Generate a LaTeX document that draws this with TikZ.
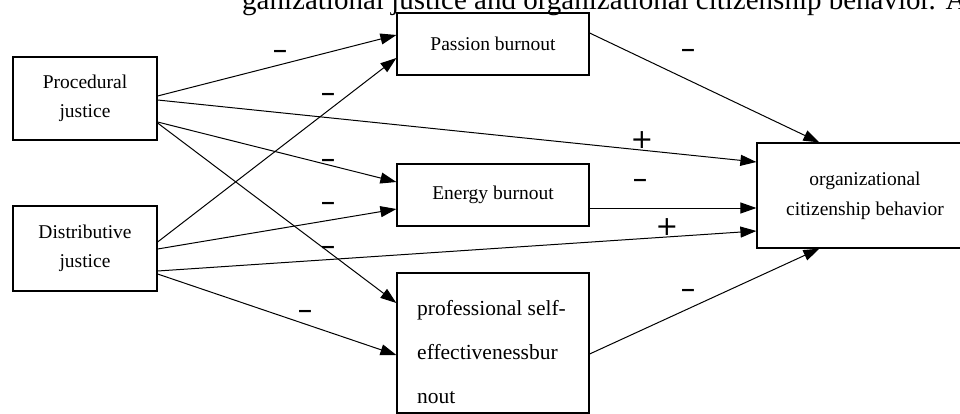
\documentclass[tikz,border=0pt]{standalone}
\usepackage{fontspec}
\setmainfont{Liberation Serif}
\newfontfamily\symfont{DejaVu Sans}
\usetikzlibrary{calc,arrows.meta}
\begin{document}
\begin{tikzpicture}[x=1pt,y=-1pt,
  box/.style={draw,line width=1.2pt,inner sep=0pt,align=center,
    font=\fontsize{19.5}{28.5}\selectfont},
  arr/.style={line width=1pt,-{Triangle[length=16pt,width=11pt]}},
  minuslab/.style={inner sep=0pt,font=\symfont\bfseries\fontsize{19}{19}\selectfont},
  pluslab/.style={inner sep=0pt,font=\symfont\fontsize{27}{27}\selectfont}]
\useasboundingbox (0,0) rectangle (960,414);
\clip (0,0) rectangle (960,414);
\node[anchor=base west,inner sep=0pt,font=\fontsize{29}{29}\selectfont] (title) at (242,10)
  {ganizational justice and organizational citizenship behavior. A};
\node[box,minimum width=144pt,minimum height=83pt] (proc) at (85,98.5) {Procedural\\justice};
\node[box,minimum width=144pt,minimum height=85pt] (dist) at (85,248.5) {Distributive\\justice};
\node[box,minimum width=192pt,minimum height=62pt] (pass) at (493,44) {Passion burnout};
\node[box,minimum width=192pt,minimum height=62pt] (ener) at (493,195) {Energy burnout};
\node[box,minimum width=192pt,minimum height=140pt] (prof) at (493,343) {};
\node[anchor=west,inner sep=0pt,align=left,font=\fontsize{21.5}{44}\selectfont] (proftext) at (417,352)
  {professional self-\\effectivenessbur\\nout};
\node[box,minimum width=216pt,minimum height=105pt,font=\fontsize{19.5}{30}\selectfont] (ocb) at (865,195.5)
  {organizational\\citizenship behavior};
% arrows
\draw[arr] ($(proc.east)+(0,-2.5)$) -- ($(pass.west)+(0,-9)$);
\draw[arr] ($(proc.east)+(0,1.5)$) -- ($(ocb.west)+(0,-33.5)$);
\draw[arr] ($(proc.east)+(0,23.5)$) -- ($(ener.west)+(0,-13)$);
\draw[arr] ($(proc.east)+(0,24.5)$) -- ($(prof.west)+(0,-40)$);
\draw[arr] ($(dist.east)+(0,-6.5)$) -- ($(pass.west)+(0,14)$);
\draw[arr] ($(dist.east)+(0,0.5)$) -- ($(ener.west)+(0,14)$);
\draw[arr] ($(dist.east)+(0,22.5)$) -- ($(ocb.west)+(0,35.5)$);
\draw[arr] ($(dist.east)+(0,25.5)$) -- ($(prof.west)+(0,12)$);
\draw[arr] ($(pass.east)+(0,-11)$) -- ($(ocb.north west)+(63,0)$);
\draw[arr] ($(ener.east)+(0,13)$) -- ($(ocb.west)+(0,12.5)$);
\draw[arr] ($(prof.east)+(0,11)$) -- ($(ocb.south west)+(63,0)$);
% labels
\node[minuslab] (l1) at (280,54) {−};
\node[minuslab] (l2) at (328,97) {−};
\node[minuslab] (l3) at (328,163) {−};
\node[minuslab] (l4) at (328,206) {−};
\node[minuslab] (l5) at (328,250) {−};
\node[minuslab] (l6) at (305,314) {−};
\node[pluslab] (l7) at (642,140) {+};
\node[minuslab] (l8) at (688,53) {−};
\node[minuslab] (l9) at (640,183) {−};
\node[pluslab] (l10) at (667,227) {+};
\node[minuslab] (l11) at (688,293) {−};
\end{tikzpicture}
\end{document}
